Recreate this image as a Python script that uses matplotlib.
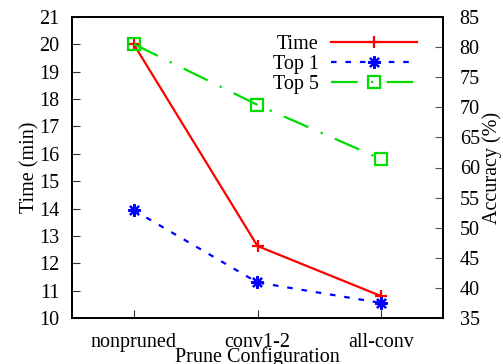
import matplotlib
matplotlib.use('Agg')
import matplotlib.pyplot as plt

plt.rcParams['font.family'] = ['Liberation Serif', 'DejaVu Serif']
plt.rcParams['font.size'] = 14.5

configs = ['nonpruned', 'conv1-2', 'all-conv']
time_min = [20.0, 12.63, 10.8]
top1 = [52.9, 40.9, 37.5]
top5 = [80.5, 70.4, 61.4]

x = range(len(configs))

fig = plt.figure(figsize=(5.03, 3.64), dpi=100)
ax = fig.add_axes([72/503, 1-318/364, (443-72)/503, (318-17)/364])
ax2 = ax.twinx()

l1, = ax.plot(x, time_min, color='#ff0000', lw=1.6, marker='+', ms=9, mew=1.6, label='Time')
l2, = ax2.plot(x, top1, color='#0000ff', lw=1.6, ls=(0, (2.5, 4)), marker=(8, 2, 0), ms=9, mew=1.6, label='Top 1')
l3, = ax2.plot(x, top5, color='#00dd00', lw=1.6, ls=(0, (12, 6, 1, 6)), marker='s', ms=9,
               mfc='none', mew=1.6, label='Top 5')

ax.set_xlim(-0.5, 2.5)
ax.set_ylim(10, 21)
ax.set_yticks(range(10, 22))
ax2.set_ylim(35, 85)
ax2.set_yticks(range(35, 90, 5))
ax.set_xticks(list(x))
ax.set_xticklabels(configs)

ax.tick_params(direction='in', length=6, color='#333333', labelsize=14.5, pad=11)
ax.tick_params(axis='y', pad=9)
ax2.tick_params(direction='in', length=6, color='#555555', labelsize=14.5, pad=12)
for a in (ax, ax2):
    for s in a.spines.values():
        s.set_linewidth(1.3)

ax.set_xlabel('Prune Configuration', fontsize=14.5, labelpad=-4)
ax.set_ylabel('Time (min)', fontsize=14.5, labelpad=0)
ax2.set_ylabel('Accuracy (%)', fontsize=14.5, labelpad=2)

ax.legend(handles=[l1, l2, l3], loc='upper right', frameon=False, markerfirst=False,
          handlelength=4.3, fontsize=14.5, labelspacing=0.05, borderaxespad=0.5,
          handletextpad=0.6, bbox_to_anchor=(0.98, 1.0))

fig.savefig('out.png', dpi=100)
